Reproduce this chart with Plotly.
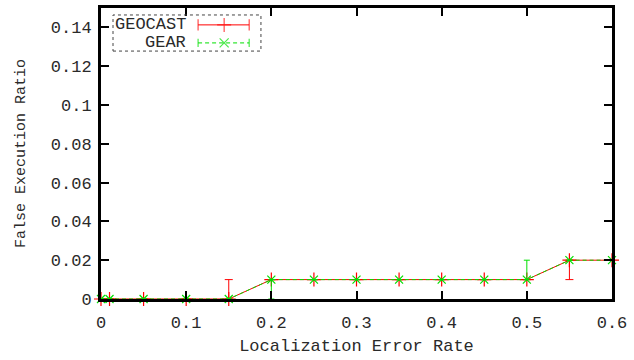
import plotly.graph_objects as go

# Localization error rate vs. false execution ratio
error_rate = [0, 0.01, 0.05, 0.1, 0.15, 0.2, 0.25, 0.3, 0.35, 0.4, 0.45, 0.5, 0.55, 0.6]
geocast_ratio = [0, 0, 0, 0, 0, 0.01, 0.01, 0.01, 0.01, 0.01, 0.01, 0.01, 0.02, 0.02]
geocast_err_plus = [0, 0, 0, 0, 0.01, 0, 0, 0, 0, 0, 0, 0, 0, 0]
geocast_err_minus = [0, 0, 0, 0, 0, 0, 0, 0, 0, 0, 0, 0, 0.01, 0]
gear_ratio = [0, 0, 0, 0, 0, 0.01, 0.01, 0.01, 0.01, 0.01, 0.01, 0.01, 0.02, 0.02]
gear_err_plus = [0, 0, 0, 0, 0, 0, 0, 0, 0, 0, 0, 0.01, 0, 0]
gear_err_minus = [0, 0, 0, 0, 0, 0.01, 0, 0, 0, 0, 0, 0, 0, 0]

x_ticks = [0, 0.1, 0.2, 0.3, 0.4, 0.5, 0.6]
x_tick_text = ["0", "0.1", "0.2", "0.3", "0.4", "0.5", "0.6"]
y_ticks = [0, 0.02, 0.04, 0.06, 0.08, 0.1, 0.12, 0.14]
y_tick_text = ["0", "0.02", "0.04", "0.06", "0.08", "0.1", "0.12", "0.14"]

series_names = ["GEOCAST", "GEAR"]

FONT = "Liberation Mono, Courier New, monospace"
TEXT = "#2a2a2a"
RED = "#ff0000"
GREEN = "#00e000"

fig = go.Figure()

fig.add_trace(go.Scatter(
    x=error_rate, y=geocast_ratio, mode="lines+markers", name=series_names[0],
    line=dict(color=RED, width=1),
    marker=dict(symbol="cross-thin", size=10, line=dict(color=RED, width=1.2)),
    error_y=dict(type="data", symmetric=False, array=geocast_err_plus,
                 arrayminus=geocast_err_minus, color=RED, thickness=1, width=4),
    cliponaxis=False, showlegend=False,
))
fig.add_trace(go.Scatter(
    x=error_rate, y=gear_ratio, mode="lines+markers", name=series_names[1],
    line=dict(color=GREEN, width=1, dash="4px,3px"),
    marker=dict(symbol="x-thin", size=8, line=dict(color=GREEN, width=1.2)),
    error_y=dict(type="data", symmetric=False, array=gear_err_plus,
                 arrayminus=gear_err_minus, color=GREEN, thickness=1, width=3),
    cliponaxis=False, showlegend=False,
))

# Key samples drawn on an overlay axis spanning the plot area
leg_x = [0.190, 0.241, 0.290]
leg_rows = [0.942, 0.880]
fig.add_trace(go.Scatter(
    x=leg_x, y=[leg_rows[0]] * 3, xaxis="x2", yaxis="y2", mode="lines+markers",
    line=dict(color=RED, width=1),
    marker=dict(symbol=["line-ns", "cross-thin", "line-ns"], size=[8, 10, 8],
                line=dict(color=RED, width=1.2)),
    showlegend=False, hoverinfo="skip",
))
fig.add_trace(go.Scatter(
    x=leg_x, y=[leg_rows[1]] * 3, xaxis="x2", yaxis="y2", mode="lines+markers",
    line=dict(color=GREEN, width=1, dash="4px,3px"),
    marker=dict(symbol=["line-ns", "x-thin", "line-ns"], size=[6, 9, 6],
                line=dict(color=GREEN, width=1.2)),
    showlegend=False, hoverinfo="skip",
))

for name, row in zip(series_names, leg_rows):
    fig.add_annotation(x=0.170, y=row, xref="paper", yref="paper", text=name,
                       showarrow=False, xanchor="right", yanchor="middle",
                       font=dict(family=FONT, size=17, color=TEXT))

fig.add_shape(type="rect", xref="paper", yref="paper", x0=0.0235, x1=0.313,
              y0=0.852, y1=0.976, line=dict(color="#444", width=1, dash="dot"))

axis_common = dict(
    showgrid=False, zeroline=False, showline=True, linecolor="black", linewidth=3,
    mirror="ticks", ticks="inside", ticklen=8, tickwidth=2, tickcolor="black",
    tickfont=dict(family=FONT, size=17, color=TEXT), automargin=False,
)

fig.update_layout(
    width=634, height=360,
    margin=dict(l=101, r=22, t=8, b=61),
    paper_bgcolor="white", plot_bgcolor="white",
    xaxis=dict(range=[0, 0.6], tickvals=x_ticks, ticktext=x_tick_text,
               ticklabelstandoff=6,
               title=dict(text="Localization Error Rate", standoff=7,
                          font=dict(family=FONT, size=17, color=TEXT)),
               **axis_common),
    yaxis=dict(range=[0, 0.15], tickvals=y_ticks, ticktext=y_tick_text,
               ticklabelstandoff=3,
               title=dict(text="False Execution Ratio", standoff=22,
                          font=dict(family=FONT, size=15, color=TEXT)),
               **axis_common),
    xaxis2=dict(range=[0, 1], overlaying="x", visible=False, fixedrange=True),
    yaxis2=dict(range=[0, 1], overlaying="y", visible=False, fixedrange=True),
)

fig.write_html("out.html")
